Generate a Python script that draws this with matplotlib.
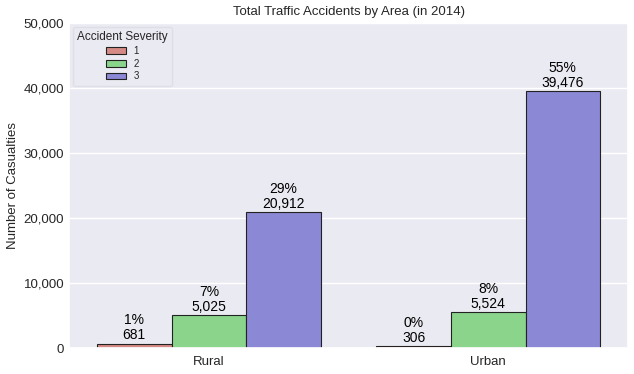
import matplotlib
matplotlib.use("Agg")
import matplotlib.pyplot as plt
import seaborn as sns
import numpy as np
from matplotlib.ticker import FuncFormatter

sns.set_theme(style="darkgrid")
plt.rcParams['font.family'] = ['Liberation Sans', 'DejaVu Sans']

areas = ["Rural", "Urban"]
severities = ["1", "2", "3"]
counts = {
    "1": [681, 306],
    "2": [5025, 5524],
    "3": [20912, 39476],
}
palette = ["#d68a85", "#8ad48c", "#8b88d5"]

fig, ax = plt.subplots(figsize=(6.34, 3.74), dpi=100)
fig.subplots_adjust(left=0.109, right=0.9905, top=0.9385, bottom=0.0695)

total = sum(sum(v) for v in counts.values())
n = len(severities)
width = 0.8 / n
x = np.arange(len(areas))
for i, s in enumerate(severities):
    pos = x - 0.4 + width * (i + 0.5)
    bars = ax.bar(pos, counts[s], width=width, color=palette[i],
                  edgecolor="#222222", linewidth=0.8, label=s, zorder=2)
    for b, v in zip(bars, counts[s]):
        ax.annotate(f"{v/total:.0%}\n{v:,}", (b.get_x() + b.get_width()/2, v),
                    xytext=(0, 1.0), textcoords="offset points",
                    ha="center", va="bottom", fontsize=10, color="black",
                    linespacing=1.1)

ax.set_xticks(x)
ax.set_xticklabels(areas, fontsize=9.5)
ax.set_xlim(-0.5, 1.5)
ax.set_ylim(0, 50000)
ax.set_yticks(np.arange(0, 50001, 10000))
ax.yaxis.set_major_formatter(FuncFormatter(lambda v, p: f"{int(v):,}"))
ax.tick_params(axis='both', length=0)
ax.tick_params(axis='x', pad=5.5)
ax.tick_params(axis='y', labelsize=9.5, pad=3.5)
ax.grid(axis='x', visible=False)
ax.grid(axis='y', color='white', linewidth=1)
ax.set_ylabel("Number of Casualties", fontsize=9.5, labelpad=3.5)
ax.set_xlabel("")
ax.set_title("Total Traffic Accidents by Area (in 2014)", fontsize=9.5, pad=5.5)
leg = ax.legend(title="Accident Severity", loc="upper left", fontsize=7,
                title_fontsize=8.5, frameon=True, labelspacing=0.28,
                borderaxespad=0.4, borderpad=0.45)
leg.get_frame().set_edgecolor("#dcdce4")
leg.get_frame().set_facecolor("#eaeaf2")

fig.savefig("out.png", dpi=100)
